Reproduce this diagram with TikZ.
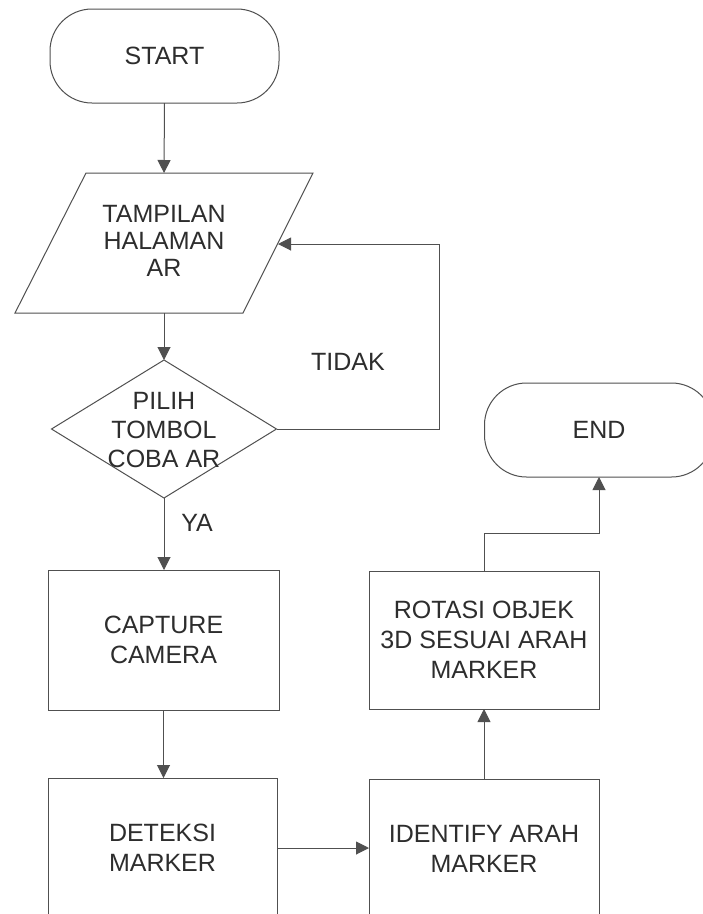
\documentclass[tikz,border=0pt]{standalone}
\usepackage{fontspec}
\setmainfont{Liberation Sans}
\usetikzlibrary{shapes.geometric,arrows.meta}
\definecolor{linec}{RGB}{80,80,80}
\definecolor{txtc}{RGB}{45,45,45}
\tikzset{
  base/.style={draw=linec, line width=1pt, text=txtc, font=\fontsize{25}{30}\selectfont, align=center, inner sep=0pt, outer sep=0pt},
  term/.style={base, rectangle, rounded corners=42pt, minimum width=229pt, minimum height=94pt},
  procbox/.style={base, rectangle, minimum width=230pt, minimum height=139pt},
  lbl/.style={text=txtc, font=\fontsize{25}{30}\selectfont, inner sep=0pt, align=center},
  conn/.style={draw=linec, line width=1pt, -{Triangle[length=13pt,width=13pt]}},
  shapeline/.style={draw=linec, line width=1pt},
}
\begin{document}
\begin{tikzpicture}[x=1pt,y=-1pt]
\path[use as bounding box, clip] (0,0) rectangle (703,914);
\fill[white] (0,0) rectangle (703,914);

% START
\node[term] (start) at (164.5,56) {START};

% input/output parallelogram
\draw[shapeline] (86,173) coordinate (ioTL) -- (313,173) coordinate (ioTR)
  -- (243,313) coordinate (ioBR) -- (15,313) coordinate (ioBL) -- cycle;
\node[lbl, font=\fontsize{25}{27}\selectfont] (io) at (164,241) {TAMPILAN\\HALAMAN\\AR};
\coordinate (ioT) at (164,173);
\coordinate (ioB) at (164,313);
\coordinate (ioR) at (278,244);

% decision
\node[base, diamond, minimum width=225pt, minimum height=138pt] (dec) at (164,429) {};
\node[lbl, font=\fontsize{25}{29}\selectfont] (dectext) at (164,430) {PILIH\\TOMBOL\\COBA AR};

% process boxes
\node[procbox, minimum width=231pt, minimum height=140pt] (cap) at (163.5,640) {CAPTURE\\CAMERA};
\node[procbox, minimum width=229pt, minimum height=140pt] (det) at (162.5,848) {DETEKSI\\MARKER};
\node[procbox, minimum height=138pt] (rot) at (484,640) {ROTASI OBJEK\\3D SESUAI ARAH\\MARKER};
\node[procbox, minimum height=139pt] (idf) at (484,848.5) {IDENTIFY ARAH\\MARKER};

% END
\node[term] (end) at (599,430) {END};

% labels
\node[lbl] (tidak) at (348,362) {TIDAK};
\node[lbl] (ya) at (197,523) {YA};

% connectors
\coordinate (loopc) at (439,244);
\draw[conn] (start.south) -- (ioT);
\draw[conn] (ioB) -- (dec.north);
\draw[conn] (dec.south) -- (dec.south |- cap.north);
\draw[conn] (cap.south) -- (cap.south |- det.north);
\draw[conn] (det.east) -- (det.east -| idf.west);
\draw[conn] (idf.north) -- (rot.south);
\draw[conn] (rot.north) -- ++(0,-38) -| (end.south);
\draw[conn] (dec.east) -| (loopc) -- (ioR);
\end{tikzpicture}
\end{document}
